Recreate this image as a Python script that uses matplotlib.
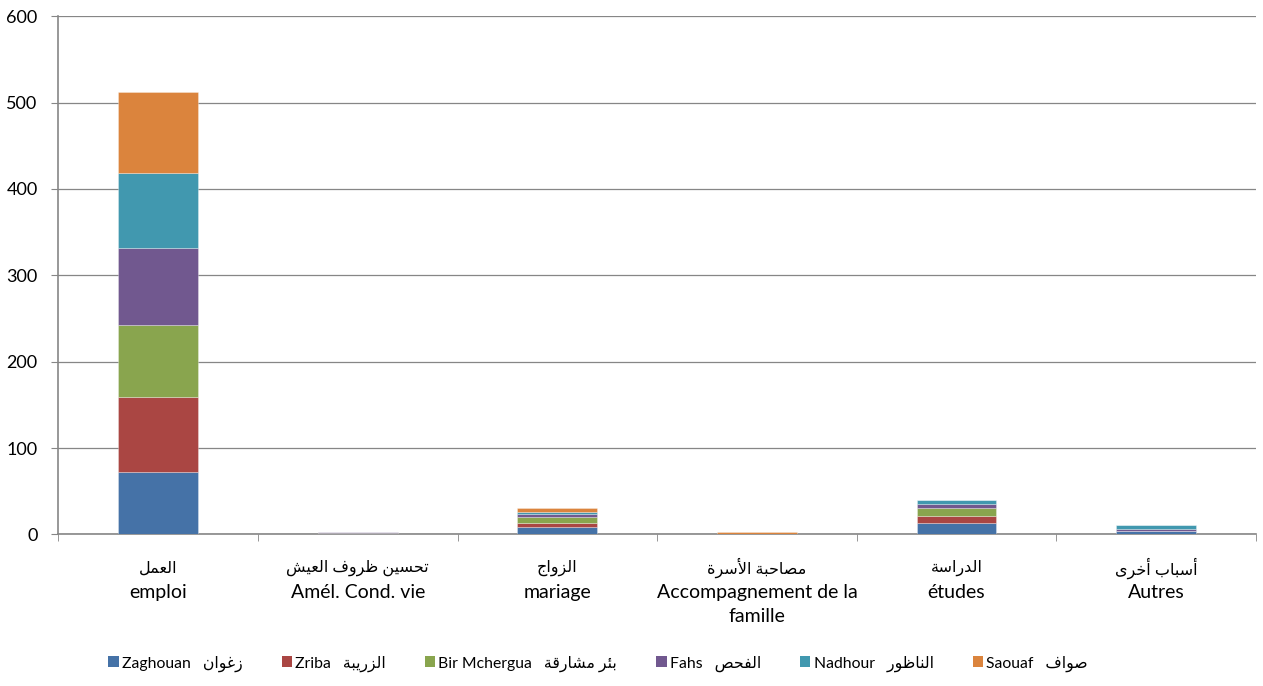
import numpy as np
import matplotlib
matplotlib.use("Agg")
import matplotlib.pyplot as plt
from matplotlib.patches import Patch

# --- minimal Arabic shaping (matplotlib has no bidi / joining support) ---
FORMS = {
    'ا': ('\uFE8D', '\uFE8E', None, None),
    'أ': ('\uFE83', '\uFE84', None, None),
    'ئ': ('\uFE89', '\uFE8A', '\uFE8B', '\uFE8C'),
    'ب': ('\uFE8F', '\uFE90', '\uFE91', '\uFE92'),
    'ة': ('\uFE93', '\uFE94', None, None),
    'ت': ('\uFE95', '\uFE96', '\uFE97', '\uFE98'),
    'ج': ('\uFE9D', '\uFE9E', '\uFE9F', '\uFEA0'),
    'ح': ('\uFEA1', '\uFEA2', '\uFEA3', '\uFEA4'),
    'خ': ('\uFEA5', '\uFEA6', '\uFEA7', '\uFEA8'),
    'د': ('\uFEA9', '\uFEAA', None, None),
    'ر': ('\uFEAD', '\uFEAE', None, None),
    'ز': ('\uFEAF', '\uFEB0', None, None),
    'س': ('\uFEB1', '\uFEB2', '\uFEB3', '\uFEB4'),
    'ش': ('\uFEB5', '\uFEB6', '\uFEB7', '\uFEB8'),
    'ص': ('\uFEB9', '\uFEBA', '\uFEBB', '\uFEBC'),
    'ظ': ('\uFEC5', '\uFEC6', '\uFEC7', '\uFEC8'),
    'ع': ('\uFEC9', '\uFECA', '\uFECB', '\uFECC'),
    'غ': ('\uFECD', '\uFECE', '\uFECF', '\uFED0'),
    'ف': ('\uFED1', '\uFED2', '\uFED3', '\uFED4'),
    'ق': ('\uFED5', '\uFED6', '\uFED7', '\uFED8'),
    'ل': ('\uFEDD', '\uFEDE', '\uFEDF', '\uFEE0'),
    'م': ('\uFEE1', '\uFEE2', '\uFEE3', '\uFEE4'),
    'ن': ('\uFEE5', '\uFEE6', '\uFEE7', '\uFEE8'),
    'و': ('\uFEED', '\uFEEE', None, None),
    'ى': ('\uFEEF', '\uFEF0', None, None),
    'ي': ('\uFEF1', '\uFEF2', '\uFEF3', '\uFEF4'),
}
LAM_ALEF = {'ا': ('\uFEFB', '\uFEFC'), 'أ': ('\uFEF7', '\uFEF8')}


def ar(text):
    chars = list(text)
    n = len(chars)
    out = []
    i = 0
    while i < n:
        c = chars[i]
        if c not in FORMS:
            out.append(c)
            i += 1
            continue
        prev = chars[i - 1] if i > 0 else None
        joined_prev = prev in FORMS and FORMS[prev][2] is not None
        if c == 'ل' and i + 1 < n and chars[i + 1] in LAM_ALEF:
            iso, fin = LAM_ALEF[chars[i + 1]]
            out.append(fin if joined_prev else iso)
            i += 2
            continue
        nxt = chars[i + 1] if i + 1 < n else None
        joins_next = FORMS[c][2] is not None and nxt in FORMS
        iso, fin, ini, med = FORMS[c]
        if joined_prev and joins_next:
            out.append(med)
        elif joined_prev:
            out.append(fin)
        elif joins_next:
            out.append(ini)
        else:
            out.append(iso)
        i += 1
    return ''.join(reversed(out))


plt.rcParams['font.family'] = ['Lato', 'DejaVu Sans']

# --- data ---
cat_ar = ['العمل', 'تحسين ظروف العيش', 'الزواج', 'مصاحبة الأسرة', 'الدراسة', 'أسباب أخرى']
cat_fr = ['emploi', 'Amél. Cond. vie', 'mariage', 'Accompagnement de la\nfamille', 'études', 'Autres']

series_fr = ['Zaghouan', 'Zriba', 'Bir Mchergua', 'Fahs', 'Nadhour', 'Saouaf']
series_ar = ['زغوان', 'الزريبة', 'بئر مشارقة', 'الفحص', 'الناظور', 'صواف']

zaghouan = [72, 0, 8, 0, 13, 4]
zriba = [87, 0, 5, 0, 8, 0]
bir_mchergua = [83, 2, 7, 0, 10, 0]
fahs = [90, 1, 4, 0, 4, 2]
nadhour = [87, 0, 2, 0, 5, 5]
saouaf = [93, 0, 5, 3, 0, 0]
values = [zaghouan, zriba, bir_mchergua, fahs, nadhour, saouaf]

colors = ['#4572A7', '#AA4643', '#89A54E', '#71588F', '#4198AF', '#DB843D']
grey = '#868686'

fig = plt.figure(figsize=(12.63, 6.86), dpi=100)
ax = fig.add_axes([0.0462, 0.221, 0.9482, 0.7553])

x = np.arange(len(cat_fr))
bottom = np.zeros(len(x))
for vals, col in zip(values, colors):
    ax.bar(x, vals, 0.4, bottom=bottom, color=col,
           edgecolor=(1, 1, 1, 0.35), linewidth=0.6, zorder=3)
    bottom += np.array(vals)

ax.set_ylim(0, 600)
ax.set_yticks(range(0, 601, 100))
ax.yaxis.grid(True, color=grey, linewidth=0.9)
ax.set_axisbelow(True)
ax.tick_params(axis='y', length=5, color=grey, pad=10, labelsize=13)

ax.set_xlim(-0.5, 5.5)
ax.set_xticks(x)
# French line as tick label, Arabic line placed above it in a smaller size
ax.set_xticklabels(cat_fr, fontsize=14, linespacing=1.5)
ax.set_xticks(np.arange(-0.5, 6, 1), minor=True)
ax.tick_params(axis='x', which='major', length=0, pad=35.5)
ax.tick_params(axis='x', which='minor', length=5, color=grey)
for xi, a in zip(x, cat_ar):
    ax.text(xi, -0.065, ar(a), transform=ax.get_xaxis_transform(),
            ha='center', va='center', fontsize=11.5)

for s in ['top', 'right']:
    ax.spines[s].set_visible(False)
for s in ['left', 'bottom']:
    ax.spines[s].set_color(grey)
    ax.spines[s].set_linewidth(1.2)
    ax.spines[s].set_zorder(2.5)

handles = [Patch(facecolor=c, edgecolor='none') for c in colors]
labels = [f + '   ' + ar(a) for f, a in zip(series_fr, series_ar)]
fig.legend(handles, labels, loc='center', bbox_to_anchor=(0.4735, 0.033), ncol=6,
           frameon=False, fontsize=11.3, handlelength=0.65, handleheight=0.65,
           handletextpad=0.2, columnspacing=2.5)

fig.savefig('out.png', dpi=100)
